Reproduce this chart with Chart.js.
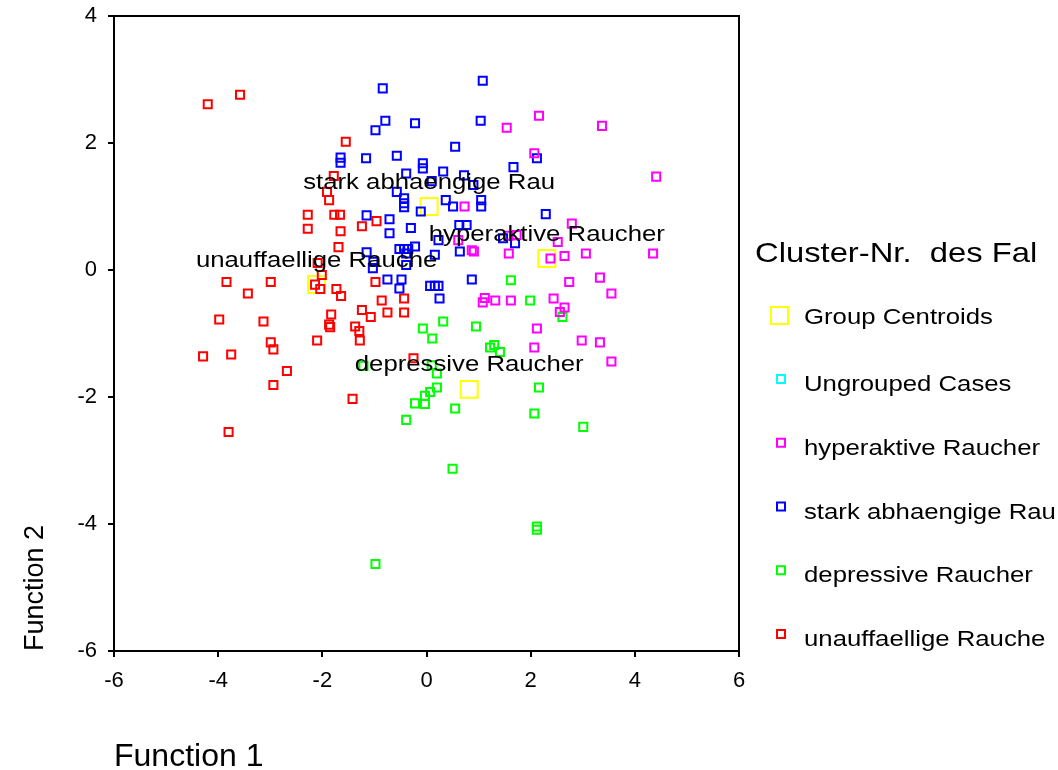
<!DOCTYPE html>
<html><head><meta charset="utf-8">
<script src="https://cdn.jsdelivr.net/npm/chart.js@4/dist/chart.umd.min.js"></script>
<style>html,body{margin:0;padding:0;background:#fff}#wrap{width:1058px;height:770px;position:relative}</style>
</head><body><div id="wrap"><canvas id="c" width="1058" height="770"></canvas></div>
<script>
const FONT = '"Liberation Sans", Arial, sans-serif';
const legendTitle = 'Cluster-Nr.  des Fal';
const xTitle = 'Function 1';
const yTitle = 'Function 2';
const xRange = [-6, 6];
const yRange = [-6, 4];
const tickStep = 2;

const seriesNames = ['Group Centroids', 'Ungrouped Cases', 'hyperaktive Raucher', 'stark abhaengige Rau', 'depressive Raucher', 'unauffaellige Rauche'];
const seriesColors = ['#ffff00', '#00ffff', '#ff00ff', '#0000ff', '#00ff00', '#ff0000'];

// group centroids (order: hyperaktive, stark, depressive, unauffaellige)
const centroidNames = ['hyperaktive Raucher', 'stark abhaengige Rau', 'depressive Raucher', 'unauffaellige Rauche'];
const centroids = [[2.31, 0.18], [0.05, 1.00], [0.82, -1.88], [-2.11, -0.23]];

const ungrouped = [];

const hyperaktive = [
  [1.54,2.24],[2.16,2.43],[3.37,2.27],[2.07,1.84],[4.41,1.47],[0.73,1.00],[2.79,0.73],[2.52,0.44],
  [1.57,0.54],[1.73,0.55],[0.87,0.31],[0.91,0.29],[0.61,0.47],[1.58,0.26],[2.38,0.18],[2.65,0.22],
  [3.06,0.26],[4.35,0.26],[2.74,-0.19],[3.33,-0.12],[3.55,-0.37],[1.12,-0.44],[1.08,-0.51],[1.32,-0.48],
  [1.62,-0.48],[2.44,-0.45],[2.65,-0.59],[2.56,-0.66],[2.12,-0.92],[2.07,-1.22],[2.98,-1.11],[3.33,-1.14],
  [3.55,-1.44]
];

const stark = [
  [-0.84,2.86],[1.08,2.98],[-0.79,2.35],[-0.98,2.20],[-0.22,2.31],[1.04,2.35],[0.55,1.94],[-1.65,1.77],
  [-1.65,1.69],[-1.16,1.76],[-0.57,1.80],[-0.07,1.68],[-0.07,1.60],[-0.39,1.52],[0.32,1.55],[0.72,1.49],
  [0.90,1.34],[0.10,1.40],[-0.57,1.23],[-0.43,1.13],[-0.43,1.05],[-0.43,0.99],[0.37,1.10],[0.51,1.00],
  [-0.11,0.92],[1.05,1.10],[1.05,1.00],[-1.15,0.86],[-0.71,0.80],[-0.71,0.58],[-0.30,0.66],[0.23,0.47],
  [0.63,0.71],[0.77,0.71],[-0.52,0.33],[-0.43,0.33],[-0.35,0.33],[-0.22,0.37],[0.64,0.29],[-1.15,0.28],
  [0.16,0.24],[1.47,0.50],[1.70,0.42],[1.67,1.62],[2.12,1.76],[2.29,0.88],[-1.02,0.13],[-1.03,0.03],
  [-0.39,0.26],[-0.39,0.08],[-0.75,-0.15],[-0.48,-0.15],[-0.52,-0.29],[0.07,-0.25],[0.16,-0.25],[0.23,-0.25],
  [0.25,-0.45],[0.87,-0.15]
];

const depressive = [
  [1.62,-0.16],[0.32,-0.81],[-0.07,-0.92],[0.11,-1.08],[0.95,-0.89],[1.22,-1.22],[1.30,-1.18],[1.41,-1.29],
  [-1.21,-1.51],[0.10,-1.50],[0.20,-1.63],[0.20,-1.85],[0.07,-1.92],[-0.03,-1.98],[-0.22,-2.10],[-0.03,-2.11],
  [-0.39,-2.36],[0.55,-2.18],[2.16,-1.85],[2.07,-2.26],[3.01,-2.47],[0.50,-3.13],[2.12,-4.04],[2.12,-4.09],
  [-0.98,-4.63],[1.99,-0.48],[2.61,-0.74]
];

const unauffaellige = [
  [-4.20,2.61],[-3.58,2.76],[-1.55,2.02],[-1.78,1.48],[-1.91,1.23],[-1.87,1.10],[-2.28,0.87],[-2.28,0.65],
  [-1.77,0.87],[-1.66,0.87],[-1.65,0.61],[-1.24,0.69],[-0.96,0.77],[-1.69,0.36],[-2.09,0.11],[-2.01,-0.08],
  [-3.84,-0.19],[-2.99,-0.19],[-3.43,-0.37],[-2.14,-0.23],[-2.04,-0.30],[-1.73,-0.30],[-1.64,-0.41],[-0.98,-0.19],
  [-0.86,-0.48],[-1.24,-0.63],[-1.07,-0.74],[-1.83,-0.70],[-1.85,-0.90],[-1.87,-0.86],[-1.37,-0.89],[-1.29,-0.96],
  [-1.28,-1.11],[-3.98,-0.78],[-3.13,-0.81],[-2.99,-1.14],[-2.94,-1.25],[-2.10,-1.11],[-4.29,-1.36],[-3.75,-1.33],
  [-2.68,-1.59],[-2.94,-1.81],[-1.42,-2.03],[-3.80,-2.55],[-0.25,-1.39],[-0.43,-0.45],[-0.75,-0.67],[-0.43,-0.67]
];

const seriesData = [centroids, ungrouped, hyperaktive, stark, depressive, unauffaellige];
const toXY = arr => arr.map(p => ({x: p[0], y: p[1]}));

const datasets = seriesNames.map((name, i) => ({
  label: name,
  data: toXY(seriesData[i]),
  pointStyle: 'rect',
  pointRadius: i === 0 ? 12 : 5.7,
  pointHoverRadius: i === 0 ? 12 : 5.7,
  pointBorderWidth: 2,
  borderColor: seriesColors[i],
  backgroundColor: 'rgba(0,0,0,0)',
  showLine: false,
  order: i === 0 ? 10 : i
}));

const STRETCH = 1.17; // reference text is horizontally widened
function stretchedText(ctx, text, x, y, align) {
  ctx.save();
  ctx.translate(x, y);
  ctx.scale(STRETCH, 1);
  ctx.textAlign = align;
  ctx.fillText(text, 0, 0);
  ctx.restore();
}

const framePlugin = {
  id: 'frame',
  beforeDatasetsDraw(chart) {
    const {ctx, chartArea: a} = chart;
    ctx.save();
    ctx.strokeStyle = '#000';
    ctx.lineWidth = 2;
    ctx.beginPath();
    ctx.moveTo(a.left, a.top); ctx.lineTo(a.right, a.top); ctx.lineTo(a.right, a.bottom);
    ctx.stroke();
    ctx.restore();
  }
};

const labelPlugin = {
  id: 'centroidLabels',
  afterDatasetsDraw(chart) {
    const {ctx, scales} = chart;
    ctx.save();
    ctx.fillStyle = '#000';
    ctx.font = '22px ' + FONT;
    ctx.textBaseline = 'middle';
    centroids.forEach((c, i) => {
      const px = scales.x.getPixelForValue(c[0]);
      const py = scales.y.getPixelForValue(c[1]);
      stretchedText(ctx, centroidNames[i], px, py - 24, 'center');
    });
    ctx.restore();
  }
};

const legendPlugin = {
  id: 'customLegend',
  afterDraw(chart) {
    const {ctx} = chart;
    ctx.save();
    ctx.fillStyle = '#000';
    ctx.font = '28px ' + FONT;
    ctx.textBaseline = 'alphabetic';
    stretchedText(ctx, legendTitle, 755, 262, 'left');
    ctx.font = '22px ' + FONT;
    ctx.textBaseline = 'middle';
    chart.data.datasets.forEach((ds, i) => {
      const ty = i === 0 ? 318 : 385 + (i - 1) * 63.75;
      ctx.strokeStyle = ds.borderColor;
      ctx.lineWidth = 2;
      if (i === 0) {
        ctx.strokeRect(771, 307, 17, 17);
      } else {
        ctx.strokeRect(777, ty - 10, 8, 8);
      }
      ctx.fillStyle = '#000';
      stretchedText(ctx, ds.label, 804, ty, 'left');
    });
    ctx.restore();
  }
};

new Chart(document.getElementById('c'), {
  type: 'scatter',
  data: {datasets},
  options: {
    responsive: false,
    animation: false,
    devicePixelRatio: 1,
    layout: {padding: {left: 0, top: 16, right: 319, bottom: 0}},
    plugins: {legend: {display: false}, tooltip: {enabled: false}},
    scales: {
      x: {
        type: 'linear', min: xRange[0], max: xRange[1],
        afterFit(s) { s.height = 119; s.paddingLeft = 0; s.paddingRight = 0; },
        ticks: {stepSize: tickStep, autoSkip: false, color: '#000', font: {family: FONT, size: 22}, padding: 11, maxRotation: 0},
        grid: {drawOnChartArea: false, tickLength: 6, color: '#000', lineWidth: 2},
        border: {color: '#000', width: 2},
        title: {display: true, text: xTitle, align: 'start', color: '#000', font: {family: FONT, size: 32, lineHeight: 0.8}, padding: 0}
      },
      y: {
        type: 'linear', min: yRange[0], max: yRange[1],
        afterFit(s) { s.width = 114; s.paddingTop = 0; s.paddingBottom = 0; },
        ticks: {stepSize: tickStep, autoSkip: false, color: '#000', font: {family: FONT, size: 22}, padding: 11},
        grid: {drawOnChartArea: false, tickLength: 6, color: '#000', lineWidth: 2},
        border: {color: '#000', width: 2},
        title: {display: true, text: yTitle, align: 'start', color: '#000', font: {family: FONT, size: 27, lineHeight: 1}, padding: {top: 22, bottom: 0}}
      }
    }
  },
  plugins: [framePlugin, labelPlugin, legendPlugin]
});
</script>
</body></html>
